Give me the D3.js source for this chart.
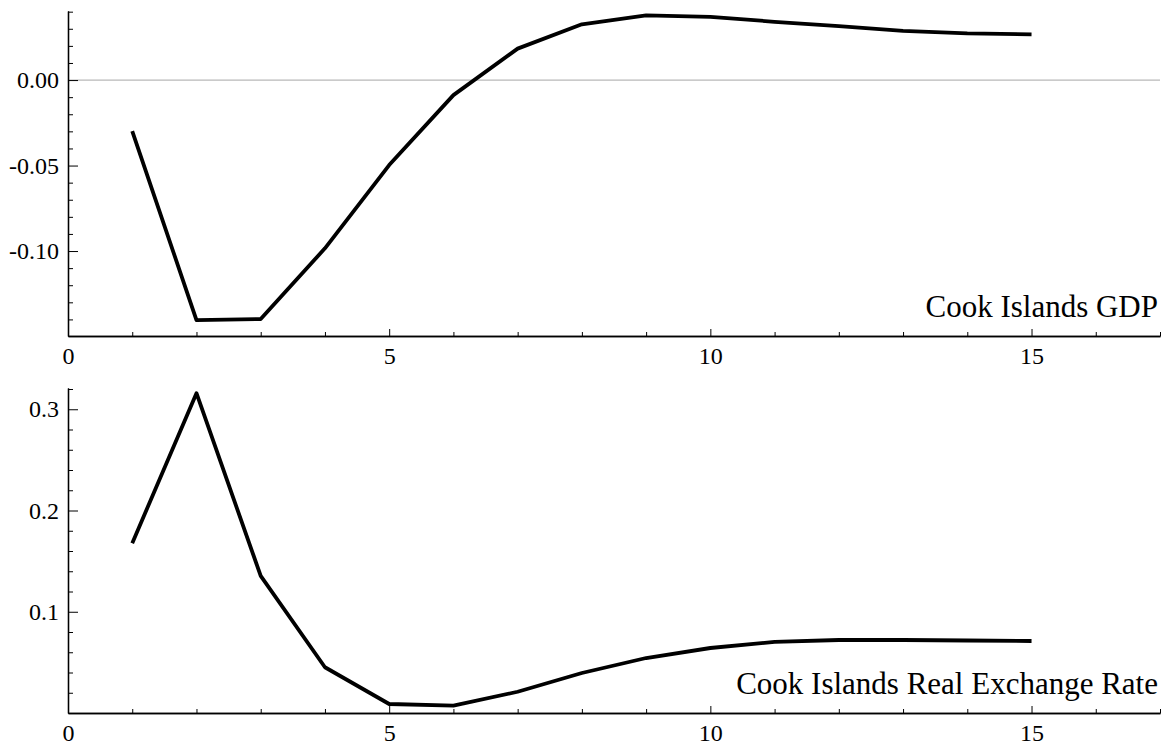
<!DOCTYPE html>
<html>
<head>
<meta charset="utf-8">
<script src="https://cdn.jsdelivr.net/npm/d3@7"></script>
<style>
  body { margin: 0; background: #fff; }
  text { font-family: "Liberation Serif", "Times New Roman", serif; }
</style>
</head>
<body>
<div id="wrapper"></div>
<script>
// data
const periods = [1, 2, 3, 4, 5, 6, 7, 8, 9, 10, 11, 12, 13, 14, 15]
const gdp = [-0.0298, -0.1404, -0.1398, -0.0984, -0.0497, -0.0088, 0.0184, 0.0326,
  0.0378, 0.0370, 0.0341, 0.0316, 0.0288, 0.0273, 0.0267]
const rer = [0.1677, 0.3159, 0.1354, 0.0452, 0.0089, 0.0072, 0.0210, 0.0395,
  0.0543, 0.0642, 0.0702, 0.0721, 0.0721, 0.0716, 0.0711]

const xMajor = [0, 5, 10, 15]
const xMinor = [1, 2, 3, 4, 6, 7, 8, 9, 11, 12, 13, 14, 16, 17]
const gdpMajor = [-0.10, -0.05, 0.00]
const gdpMinor = [-0.14, -0.13, -0.12, -0.11, -0.09, -0.08, -0.07, -0.06,
  -0.04, -0.03, -0.02, -0.01, 0.01, 0.02, 0.03, 0.04]
const rerMajor = [0.1, 0.2, 0.3]
const rerMinor = [0.02, 0.04, 0.06, 0.08, 0.12, 0.14, 0.16, 0.18, 0.22, 0.24, 0.26, 0.28, 0.32]

const panels = [
  { name: "Cook Islands GDP", values: gdp, domain: [-0.1497, 0.0404], top: 11,
    major: gdpMajor, minor: gdpMinor, fmt: d3.format(".2f"), zeroLine: true },
  { name: "Cook Islands Real Exchange Rate", values: rer, domain: [0, 0.321], top: 388,
    major: rerMajor, minor: rerMinor, fmt: d3.format(".1f"), zeroLine: false }
]

const dims = { width: 1169, height: 749, left: 68, right: 1160, panelHeight: 325 }

const svg = d3.select("#wrapper")
  .append("svg")
    .attr("width", dims.width)
    .attr("height", dims.height)

const xScale = d3.scaleLinear()
  .domain([0, 17])
  .range([dims.left, dims.right])

// plain hyphen for negatives, like the original
const fmtNum = f => d => f(d).replace("\u2212", "-")

panels.forEach(p => {
  const bottom = p.top + dims.panelHeight
  const yScale = d3.scaleLinear()
    .domain(p.domain)
    .range([bottom, p.top])

  if (p.zeroLine) {
    svg.append("line")
      .attr("x1", dims.left).attr("x2", dims.right)
      .attr("y1", yScale(0)).attr("y2", yScale(0))
      .attr("stroke", "#b8b8b8")
      .attr("stroke-width", 1.3)
  }

  // y axis
  svg.append("g")
    .attr("transform", `translate(${dims.left},0)`)
    .call(d3.axisLeft(yScale).tickValues(p.minor).tickSize(-5).tickSizeOuter(0).tickFormat(""))
  const yAxis = svg.append("g")
    .attr("transform", `translate(${dims.left},0)`)
    .call(d3.axisLeft(yScale).tickValues(p.major).tickSize(-10).tickSizeOuter(0).tickPadding(9)
      .tickFormat(fmtNum(p.fmt)))
  yAxis.selectAll("text")
    .style("font-size", "24px")
    .attr("fill", "#000")

  // x axis
  svg.append("g")
    .attr("transform", `translate(0,${bottom})`)
    .call(d3.axisBottom(xScale).tickValues(xMinor).tickSize(-4).tickSizeOuter(0).tickFormat(""))
  const xAxis = svg.append("g")
    .attr("transform", `translate(0,${bottom})`)
    .call(d3.axisBottom(xScale).tickValues(xMajor).tickSize(-7).tickSizeOuter(0).tickPadding(11))
  xAxis.selectAll("text")
    .style("font-size", "24px")
    .attr("fill", "#000")

  svg.selectAll(".domain").attr("stroke", "#000").attr("stroke-width", 1.3)
  svg.selectAll(".tick line").attr("stroke", "#000").attr("stroke-width", 1)

  // the series
  const line = d3.line()
    .x((d, i) => xScale(periods[i]))
    .y(d => yScale(d))

  svg.append("path")
    .datum(p.values)
    .attr("d", line)
    .attr("fill", "none")
    .attr("stroke", "#000")
    .attr("stroke-width", 3.8)
    .attr("stroke-linejoin", "round")

  svg.append("text")
    .attr("x", dims.right - 2)
    .attr("y", bottom - 19)
    .attr("text-anchor", "end")
    .style("font-size", "31px")
    .attr("fill", "#000")
    .text(p.name)
})
</script>
</body>
</html>
